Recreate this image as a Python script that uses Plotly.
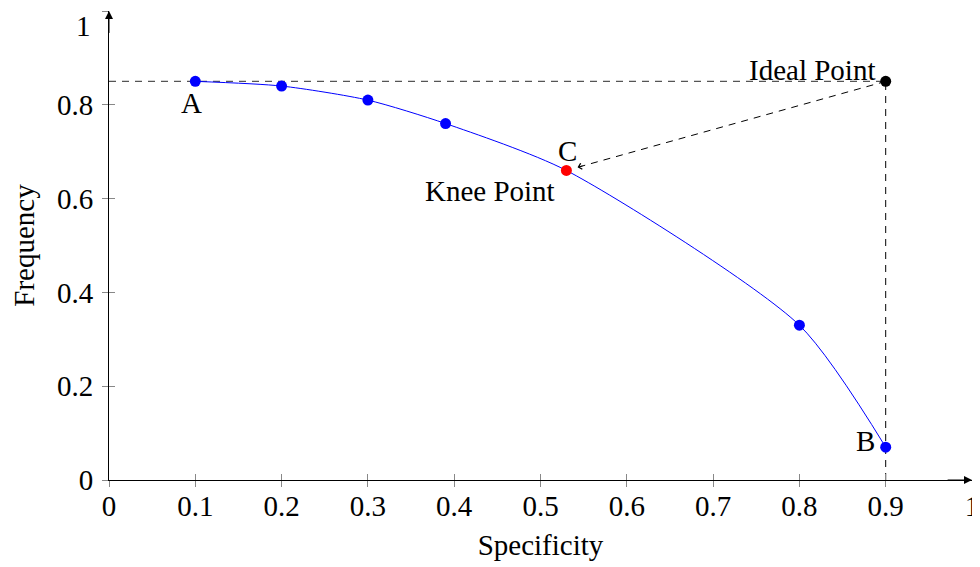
import plotly.graph_objects as go

# Data
spec = [0.1, 0.2, 0.3, 0.39, 0.53, 0.8, 0.9]
freq = [0.85, 0.84, 0.81, 0.76, 0.66, 0.33, 0.07]
point_colors = ["blue", "blue", "blue", "blue", "red", "blue", "blue"]
ideal_x = [0.9]
ideal_y = [0.85]
knee_idx = 4
tick_vals = [0, 0.1, 0.2, 0.3, 0.4, 0.5, 0.6, 0.7, 0.8, 0.9, 1]
tick_text = ["0", "0.1", "0.2", "0.3", "0.4", "0.5", "0.6", "0.7", "0.8", "0.9", "1"]
ytick_vals = [0, 0.2, 0.4, 0.6, 0.8, 1]
ytick_text = ["0", "0.2", "0.4", "0.6", "0.8", "1"]

FONT = "Liberation Serif, DejaVu Serif, serif"
FS = 29

fig = go.Figure()

# dashed guide lines from ideal point
fig.add_trace(go.Scatter(x=[0, ideal_x[0]], y=[ideal_y[0], ideal_y[0]], mode="lines",
                         line=dict(color="#555555", width=1.3, dash="7px,6px"),
                         hoverinfo="skip", showlegend=False, cliponaxis=False))
fig.add_trace(go.Scatter(x=[ideal_x[0], ideal_x[0]], y=[0, ideal_y[0]], mode="lines",
                         line=dict(color="black", width=1, dash="7px,6px"),
                         hoverinfo="skip", showlegend=False, cliponaxis=False))

# dashed arrow line from ideal point toward knee point
kx, ky = spec[knee_idx], freq[knee_idx]
ex = kx + (ideal_x[0] - kx) * 0.035
ey = ky + (ideal_y[0] - ky) * 0.035
fig.add_trace(go.Scatter(x=[ideal_x[0], ex], y=[ideal_y[0], ey], mode="lines",
                         line=dict(color="black", width=1, dash="7px,6px"),
                         hoverinfo="skip", showlegend=False, cliponaxis=False))

# curve
fig.add_trace(go.Scatter(x=spec, y=freq, mode="lines",
                         line=dict(color="blue", width=1, shape="spline", smoothing=0.7),
                         hoverinfo="skip", showlegend=False, cliponaxis=False))
fig.add_trace(go.Scatter(x=spec, y=freq, mode="markers",
                         marker=dict(color=point_colors, size=11, line=dict(width=0)),
                         showlegend=False, cliponaxis=False))
fig.add_trace(go.Scatter(x=ideal_x, y=ideal_y, mode="markers",
                         marker=dict(color="black", size=11, line=dict(width=0)),
                         showlegend=False, cliponaxis=False))

# invisible trace for overlay axes (inside ticks)
fig.add_trace(go.Scatter(x=[0], y=[0], xaxis="x2", yaxis="y2", mode="markers",
                         marker=dict(opacity=0), hoverinfo="skip", showlegend=False))

ann = []
# arrowhead at end of dashed arrow
ann.append(dict(x=ex, y=ey, ax=ex + (ideal_x[0] - kx) * 0.02, ay=ey + (ideal_y[0] - ky) * 0.02,
                xref="x", yref="y", axref="x", ayref="y", text="", showarrow=True,
                arrowhead=4, arrowsize=1.2, arrowwidth=1, arrowcolor="black"))
# axis arrows
ann.append(dict(x=1, y=0, ax=0.97, ay=0, xref="x", yref="y", axref="x", ayref="y", text="",
                showarrow=True, arrowhead=2, arrowsize=1.6, arrowwidth=1, arrowcolor="black"))
ann.append(dict(x=0, y=1, ax=0, ay=0.95, xref="x", yref="y", axref="x", ayref="y", text="",
                showarrow=True, arrowhead=2, arrowsize=1.6, arrowwidth=1, arrowcolor="black"))
# labels
tf = dict(family=FONT, size=FS, color="black")
ann.append(dict(x=spec[0], y=freq[0], text="A", showarrow=False, font=tf,
                xanchor="center", yanchor="middle", xshift=-4, yshift=-22))
ann.append(dict(x=spec[-1], y=freq[-1], text="B", showarrow=False, font=tf,
                xanchor="right", yanchor="middle", xshift=-9, yshift=6))
ann.append(dict(x=kx, y=ky, text="C", showarrow=False, font=tf,
                xanchor="center", yanchor="middle", xshift=1, yshift=19))
ann.append(dict(x=kx, y=ky, text="Knee Point", showarrow=False, font=tf,
                xanchor="right", yanchor="middle", xshift=-9, yshift=-21))
ann.append(dict(x=ideal_x[0], y=ideal_y[0], text="Ideal Point", showarrow=False, font=tf,
                xanchor="right", yanchor="middle", xshift=-9, yshift=11))
# top y tick label (placed as annotation so it stays inside the page)
ann.append(dict(x=0, y=1, xref="x", yref="paper", text=ytick_text[-1], showarrow=False,
                font=tf, xanchor="right", yanchor="top", xshift=-16, yshift=3))

y_ticktext_axis = ytick_text[:-1] + [""]

axis_common = dict(range=[0, 1], showgrid=False, zeroline=False, showline=True,
                   linecolor="black", linewidth=1, ticks="outside", ticklen=6,
                   tickcolor="#888888", tickwidth=1, automargin=False,
                   ticklabeloverflow="allow",
                   tickfont=dict(family=FONT, size=FS, color="black"))

fig.update_layout(
    width=972, height=559,
    margin=dict(l=101, r=8, t=3, b=87),
    paper_bgcolor="white", plot_bgcolor="white",
    font=dict(family=FONT),
    xaxis=dict(**axis_common, tickvals=tick_vals, ticktext=tick_text, ticklabelstandoff=-6,
               title=dict(text="Specificity", font=dict(family=FONT, size=FS, color="black"), standoff=13)),
    yaxis=dict(**axis_common, tickvals=ytick_vals, ticktext=y_ticktext_axis, ticklabelstandoff=3,
               title=dict(text="Frequency", font=dict(family=FONT, size=FS, color="black"), standoff=23)),
    xaxis2=dict(range=[0, 1], overlaying="x", anchor="y", side="bottom", showgrid=False,
                zeroline=False, showline=False, ticks="inside", ticklen=6, tickcolor="#888888",
                tickwidth=1, tickvals=tick_vals, showticklabels=False, automargin=False),
    yaxis2=dict(range=[0, 1], overlaying="y", anchor="x", side="left", showgrid=False,
                zeroline=False, showline=False, ticks="inside", ticklen=6, tickcolor="#888888",
                tickwidth=1, tickvals=ytick_vals, showticklabels=False, automargin=False),
    annotations=ann,
    showlegend=False,
)

fig.write_html("out.html")
